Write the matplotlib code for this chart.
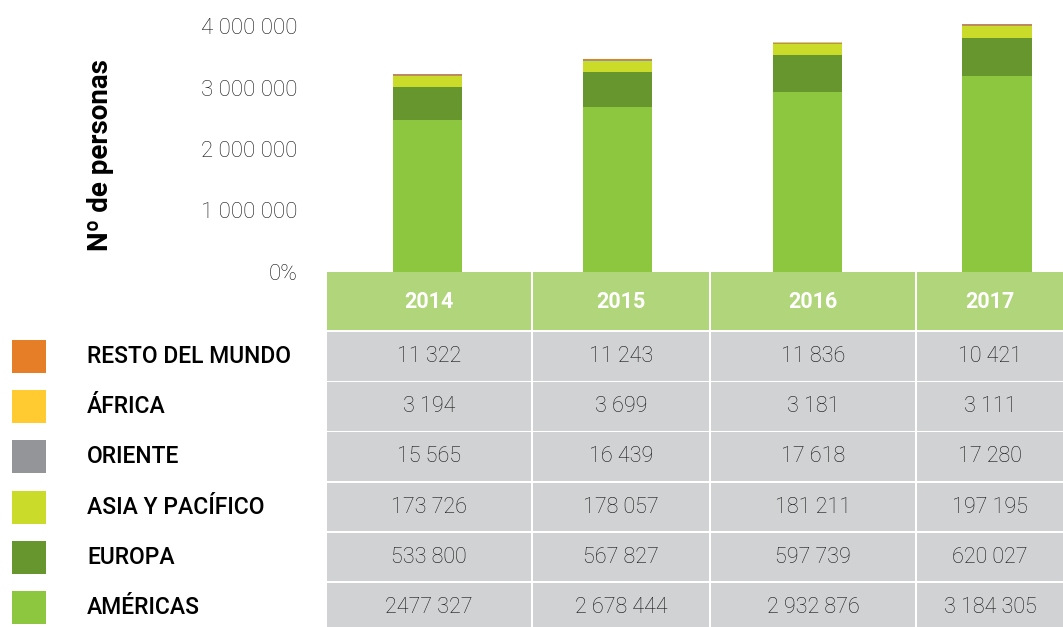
import matplotlib.pyplot as plt
from matplotlib.patches import Rectangle

years = ["2014", "2015", "2016", "2017"]
regions = ["AMÉRICAS", "EUROPA", "ASIA Y PACÍFICO", "ORIENTE", "ÁFRICA", "RESTO DEL MUNDO"]
americas = [2477327, 2678444, 2932876, 3184305]
europa = [533800, 567827, 597739, 620027]
asia = [173726, 178057, 181211, 197195]
oriente = [15565, 16439, 17618, 17280]
africa = [3194, 3699, 3181, 3111]
resto = [11322, 11243, 11836, 10421]
series = [americas, europa, asia, oriente, africa, resto]
colors = ["#8DC63F", "#67952E", "#CBDB2A", "#939598", "#FFCB31", "#E67E27"]
yticks = [0, 1000000, 2000000, 3000000, 4000000]
# the source table prints the first Américas value without its separator
text_override = {(0, 0): "2477 327"}

W, H = 1063, 627
fig = plt.figure(figsize=(W / 100, H / 100), dpi=100)
plt.rcParams['font.family'] = ['Roboto', 'DejaVu Sans']
txt_col = '#141414'


def fmt(v):
    return f"{v:,}".replace(",", " ")


# stacked bars
ax = fig.add_axes([327 / W, (H - 272) / H, 736 / W, 272 / H])
bottom = [0, 0, 0, 0]
for vals, col in zip(series, colors):
    ax.bar(range(4), vals, 0.364, bottom=bottom, color=col, linewidth=0)
    bottom = [b + v for b, v in zip(bottom, vals)]
ax.set_xlim(-0.532, 3.348)
ax.set_ylim(0, 272 / 61.5 * 1e6)
ax.set_yticks(yticks)
ax.set_yticklabels(["0%"] + [fmt(t) for t in yticks[1:]], fontsize=16,
                   fontweight='light', color=txt_col)
ax.set_xticks([])
ax.tick_params(axis='y', length=0, pad=21)
for s in ax.spines.values():
    s.set_visible(False)

fig.text(100 / W, 1 - 155 / H, "Nº de personas", rotation=90, ha='center',
         va='center', fontsize=20, fontweight='bold', color='black')

# table and legend drawn in pixel coordinates
tab = fig.add_axes([0, 0, 1, 1])
tab.set_xlim(0, W)
tab.set_ylim(H, 0)
tab.axis('off')

cols = [(327, 531), (533, 709), (711, 915), (917, 1063)]
for (x0, x1), yr in zip(cols, years):
    tab.add_patch(Rectangle((x0, 272), x1 - x0, 58, color='#B0D57A', lw=0))
    tab.text((x0 + x1) / 2, 302, yr, ha='center', va='center', fontsize=15.5,
             fontweight='bold', color='white')

for i in range(6):
    k = 5 - i  # top row is the last series
    y0 = 332 + i * 50.2
    yc = y0 + 24.5
    tab.add_patch(Rectangle((12, yc - 16.5), 34, 33, color=colors[k], lw=0))
    tab.text(87, yc, regions[k], ha='left', va='center', fontsize=16.5,
             fontweight='medium', color='black')
    for j, (x0, x1) in enumerate(cols):
        tab.add_patch(Rectangle((x0, y0), x1 - x0, 48.5, color='#D1D2D4', lw=0))
        label = text_override.get((k, j), fmt(series[k][j]))
        tab.text((x0 + x1) / 2, yc, label, ha='center', va='center',
                 fontsize=15.5, fontweight='light', color=txt_col)

fig.savefig("out.png", dpi=100)
